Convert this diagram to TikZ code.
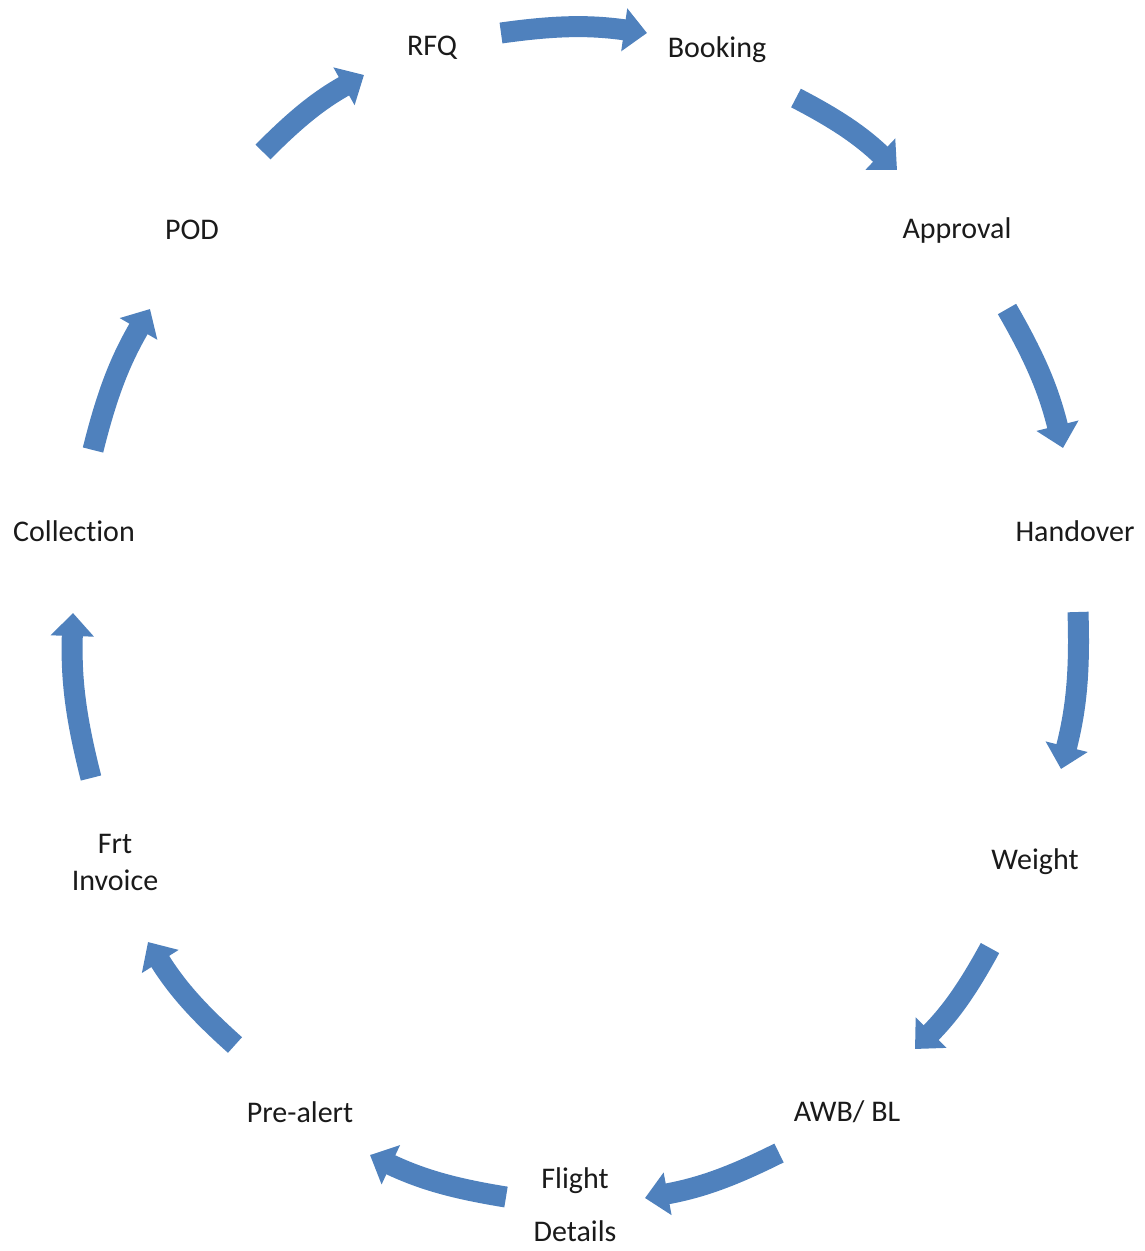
\documentclass[tikz,border=0pt]{standalone}
\usepackage{fontspec}
\setmainfont{Carlito}[Ligatures=NoCommon]
\usetikzlibrary{arrows.meta}
\definecolor{flowblue}{HTML}{4F81BD}
\definecolor{labelgray}{HTML}{1A1A1A}
\begin{document}
\begin{tikzpicture}[x=1pt,y=-1pt,
  lbl/.style={text=labelgray,font=\fontsize{30}{37}\selectfont,inner sep=0pt,align=center},
  flow/.style={draw=flowblue,line width=21pt,-{Triangle[width=42pt,length=23pt]},bend left=8}]
\useasboundingbox (0,0) rectangle (1145,1251);
% labels
\node[lbl] (rfq) at (432,48) {RFQ};
\node[lbl] (booking) at (717,50) {Booking};
\node[lbl] (approval) at (957,230) {Approval};
\node[lbl] (handover) at (1075,531) {Handover};
\node[lbl] (weight) at (1035,862) {Weight};
\node[lbl] (awb) at (847,1112) {AWB/ BL};
\node[lbl,font=\fontsize{30}{53}\selectfont] (flight) at (575,1205) {Flight\\Details};
\node[lbl] (prealert) at (300,1112) {Pre-alert};
\node[lbl] (frt) at (115,862) {Frt\\Invoice};
\node[lbl] (collection) at (74,531) {Collection};
\node[lbl] (pod) at (192,230) {POD};
% arrow end points
\coordinate (s1) at (501,33);  \coordinate (e1) at (647,33);
\coordinate (s2) at (796,98);  \coordinate (e2) at (897,170);
\coordinate (s3) at (1007,309); \coordinate (e3) at (1063,448);
\coordinate (s4) at (1078,612); \coordinate (e4) at (1061,769);
\coordinate (s5) at (990,948);  \coordinate (e5) at (915,1049);
\coordinate (s6) at (779,1153); \coordinate (e6) at (645,1198);
\coordinate (s7) at (506,1197); \coordinate (e7) at (370,1155);
\coordinate (s8) at (235,1045); \coordinate (e8) at (148,942);
\coordinate (s9) at (91,778);   \coordinate (e9) at (73,613);
\coordinate (s10) at (93,450);  \coordinate (e10) at (150,309);
\coordinate (s11) at (263,152); \coordinate (e11) at (364,75);
\foreach \i in {1,...,11} {\draw[flow] (s\i) to (e\i);}
\end{tikzpicture}
\end{document}
